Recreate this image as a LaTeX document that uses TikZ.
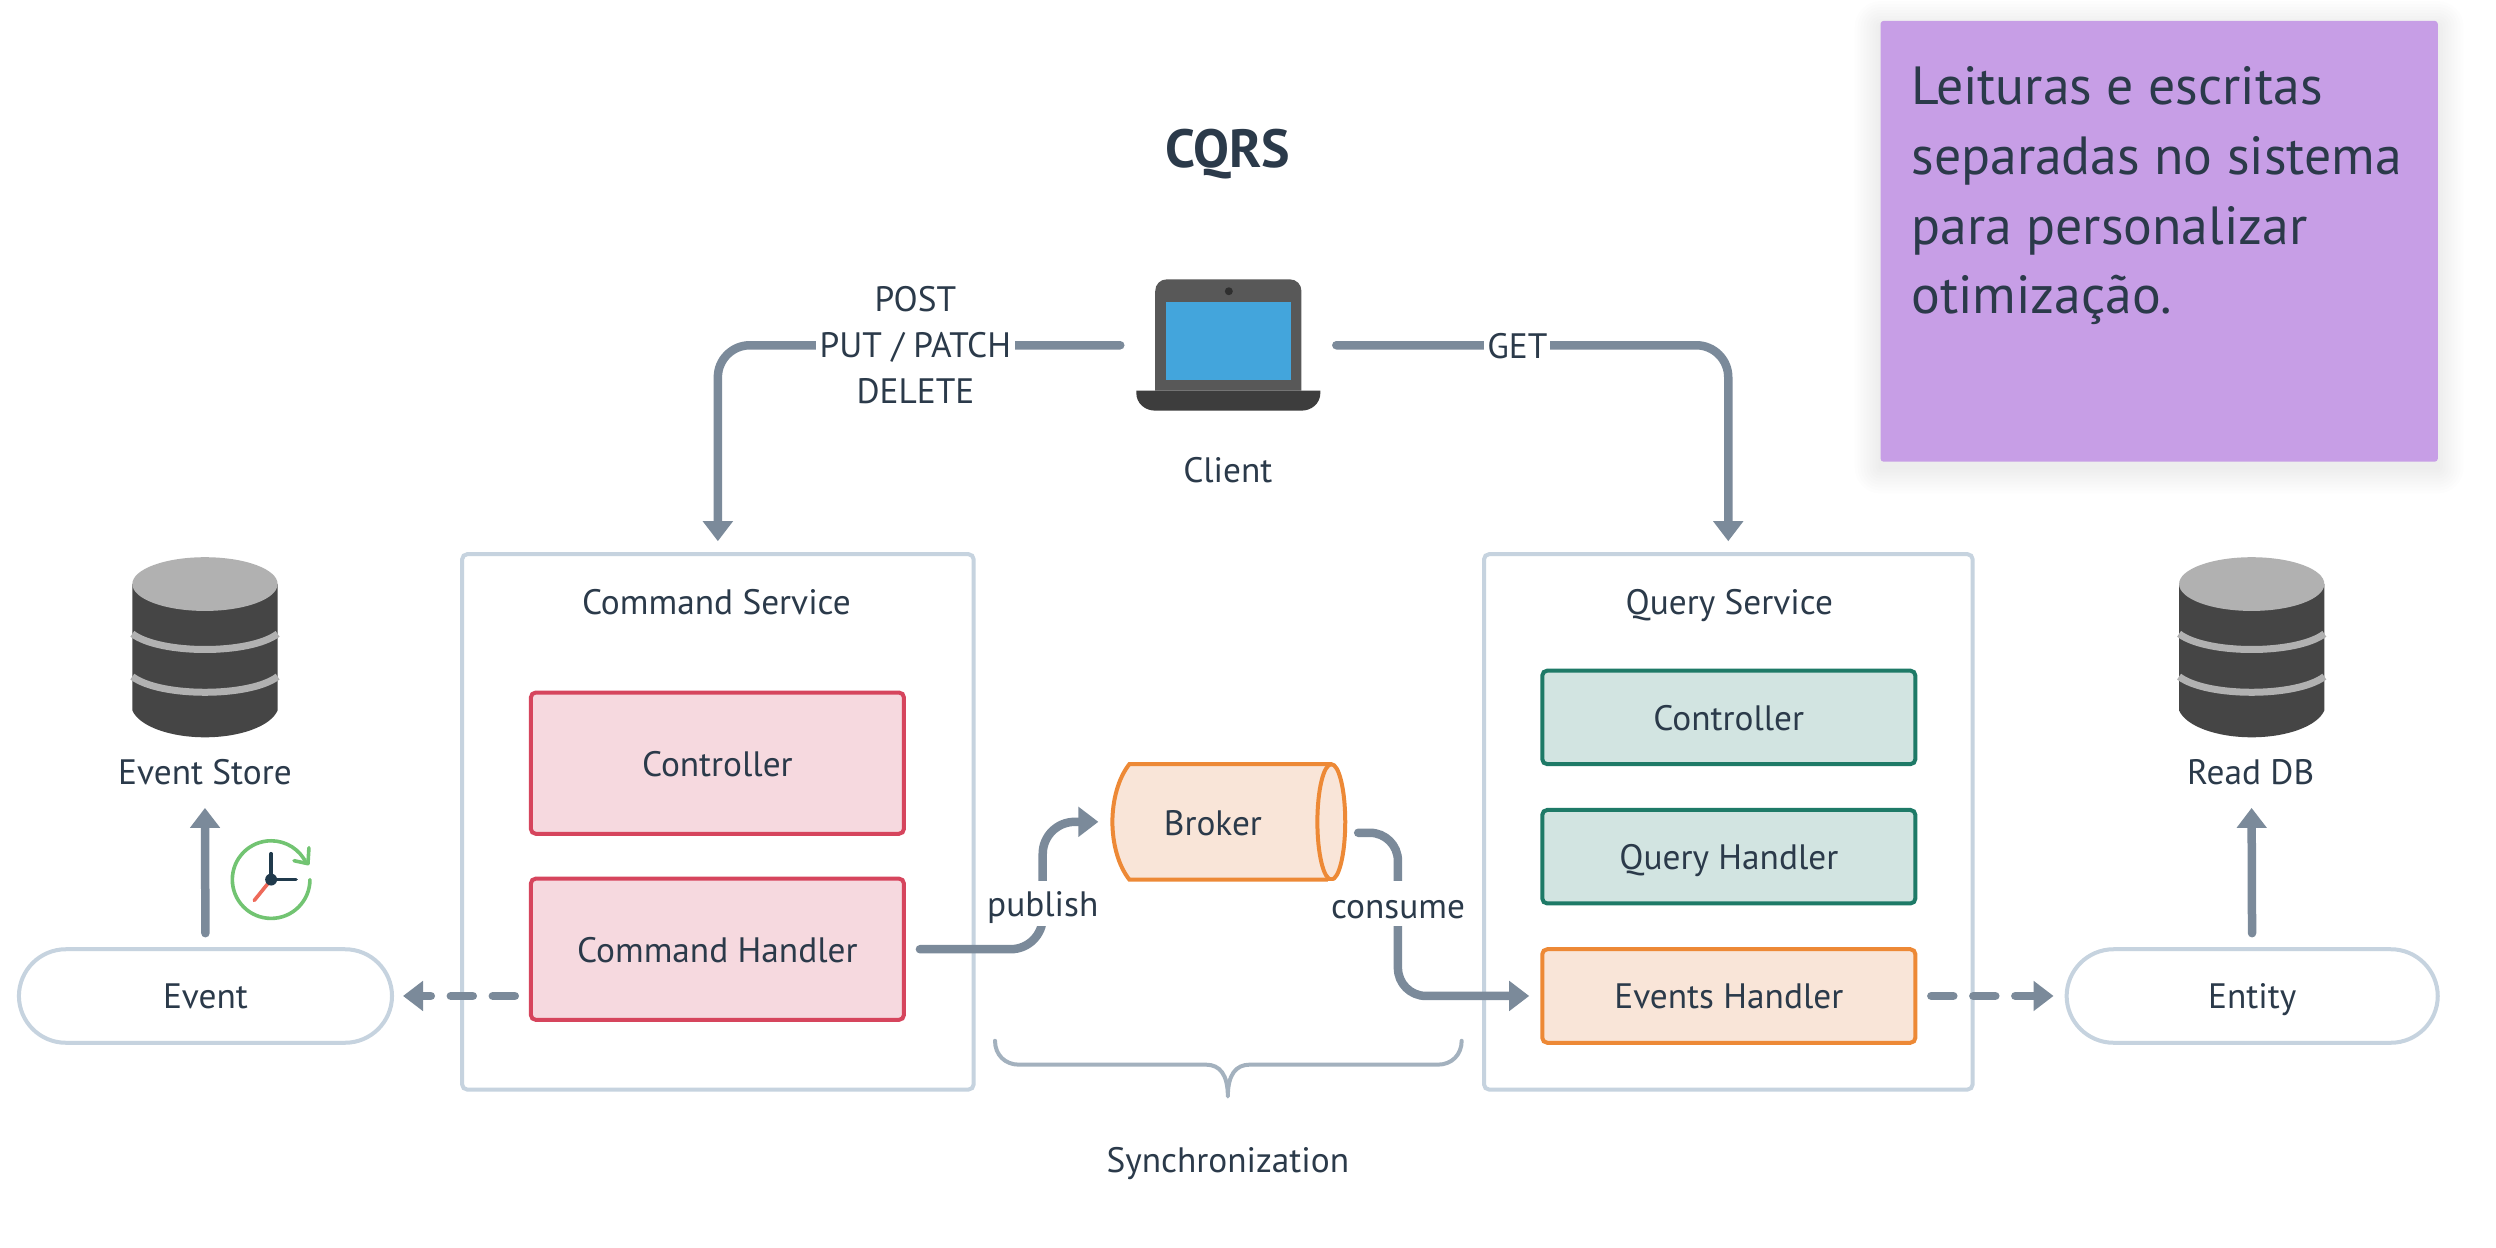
\documentclass[tikz,border=0pt]{standalone}
\usepackage{fontspec}
\setmainfont{PT Sans}
\usetikzlibrary{arrows.meta,calc}
\definecolor{ink}{HTML}{2B3A4A}
\definecolor{conn}{HTML}{7B8A9A}
\definecolor{frame}{HTML}{C6D3DF}
\definecolor{redf}{HTML}{F6D9DF}
\definecolor{redd}{HTML}{D6455D}
\definecolor{grnf}{HTML}{D2E4E1}
\definecolor{grnd}{HTML}{1E7A67}
\definecolor{orf}{HTML}{F9E5D8}
\definecolor{ord}{HTML}{ED8936}
\definecolor{notef}{HTML}{C79EE6}
\definecolor{dbdark}{HTML}{454545}
\definecolor{dblight}{HTML}{B1B1B1}
\definecolor{lapbody}{HTML}{585858}
\definecolor{lapbase}{HTML}{3D3D3D}
\definecolor{lapscr}{HTML}{43A5DC}
\definecolor{lapcam}{HTML}{2F2F2F}
\definecolor{clockg}{HTML}{72C472}
\definecolor{clockd}{HTML}{203A4C}
\definecolor{clockr}{HTML}{EE6A5A}
\definecolor{bracec}{HTML}{A3B1BE}
\tikzset{
  plain/.style={font=\fontsize{35.5}{46}\selectfont,text=ink,inner sep=0pt,outer sep=0pt,align=center},
  lbl/.style={plain,text height=26pt,text depth=0pt},
  gaplbl/.style={lbl,fill=white,inner xsep=3pt,minimum height=46pt},
  svc/.style={draw=frame,line width=4pt,rounded corners=5pt,fill=white,minimum width=#1,outer sep=0pt,minimum height=538pt},
  part/.style={lbl,line width=4pt,rounded corners=5pt,minimum width=375pt},
  redpart/.style={part,draw=redd,fill=redf,minimum height=142pt},
  grnpart/.style={part,draw=grnd,fill=grnf,minimum height=94pt},
  orpart/.style={part,draw=ord,fill=orf,minimum height=94pt},
  pill/.style={lbl,draw=frame,line width=4pt,rounded corners=47pt,fill=white,minimum height=94pt,minimum width=375pt},
  link/.style={draw=conn,line width=8.5pt,line cap=round,-{Triangle[length=20pt,width=29pt]}},
  dashlink/.style={link,dash pattern=on 22pt off 20pt},
  ghost/.style={inner sep=0pt,outer sep=0pt},
  every node/.append style={transform shape}
}
\newcommand{\dbicon}[1]{%
  \begin{scope}[shift={(#1,2)}]
    \fill[dbdark] (-73,585) -- (-73,712) .. controls (-66,728) and (-35,739) .. (0,739) .. controls (35,739) and (66,728) .. (73,712) -- (73,585) -- cycle;
    \draw[dblight,line width=7pt] (-73,635) .. controls (-45,656) and (45,656) .. (73,635);
    \draw[dblight,line width=7pt] (-73,678) .. controls (-45,699) and (45,699) .. (73,678);
    \fill[dblight] (0,585) ellipse [x radius=73pt,y radius=27pt];
  \end{scope}}
\begin{document}
\begin{tikzpicture}[scale=0.995,x=1pt,y=-1pt]
\useasboundingbox (0,0) rectangle (2508.54,1254.27);
\fill[white] (0,0) rectangle (2508.54,1254.27);
% note shadow
\foreach \g in {26,23,...,2}{
  \fill[black,opacity=0.007,rounded corners=\g pt] (1890-\g,21-\g+6) rectangle (2450+\g,464+\g+6);
}
\node[fill=notef,rounded corners=3pt,minimum width=560pt,minimum height=443pt,ghost] (note) at (2170,242.5) {};
\node[plain,anchor=west,align=left,font=\fontsize{54}{70}\selectfont] (notetext) at (1921,197) {Leituras e escritas\\separadas no sistema\\para personalizar\\otimização.};
% title
\node[plain,font=\fontsize{54}{60}\selectfont\bfseries] (title) at (1234,155) {CQRS};
% laptop
\node[ghost,minimum width=185pt,minimum height=132pt] (client) at (1234.5,347) {};
\begin{scope}[shift={(6,1.7)}]
\fill[lapbody] (1155,391) -- (1155,291) .. controls (1155,284) and (1160,279) .. (1167,279) -- (1290,279) .. controls (1297,279) and (1302,284) .. (1302,291) -- (1302,391) -- cycle;
\fill[lapscr] (1166,302) rectangle (1291,380);
\fill[lapbase] (1136,391) -- (1321,391) -- (1321,393) .. controls (1321,404) and (1312,411) .. (1302,411) -- (1155,411) .. controls (1145,411) and (1136,404) .. (1136,393) -- cycle;
\fill[lapcam] (1229,291) circle (4pt);
\end{scope}
\node[lbl] (clientlbl) at (1234,472) {Client};
% services
\node[svc=514pt] (cmd) at (721.5,826) {};
\node[svc=491pt] (qry) at (1737,826) {};
\node[lbl] (cmdlbl) at (720,605) {Command Service};
\node[lbl] (qrylbl) at (1738,605) {Query Service};
\node[redpart] (ctrl) at (721,767) {Controller};
\node[redpart] (cmdh) at (721,954) {Command Handler};
\node[grnpart] (qctrl) at (1737.5,721) {Controller};
\node[grnpart] (qh) at (1737.5,861) {Query Handler};
\node[orpart] (evh) at (1737.5,1001) {Events Handler};
\node[pill] (event) at (206.5,1001) {Event};
\node[pill,minimum width=373pt] (entity) at (2263.5,1001) {Entity};
% databases
\dbicon{206}
\dbicon{2263}
\node[lbl] (evstore) at (206,775) {Event Store};
\node[lbl] (readdb) at (2262,775) {Read DB};
\coordinate (evtip) at (206,812);
\coordinate (rdtip) at (2263,812);
% broker
\node[ghost,minimum width=235pt,minimum height=118pt] (broker) at (1234.5,826) {};
\path[draw=ord,fill=orf,line width=4pt] (1135,768) -- (1338,768) arc[start angle=90,end angle=-90,x radius=14pt,y radius=58pt] -- (1135,884) .. controls (1124,870) and (1118,848) .. (1118,826) .. controls (1118,804) and (1124,782) .. (1135,768) -- cycle;
\draw[ord,line width=4pt] (1338,768) arc[start angle=90,end angle=270,x radius=14pt,y radius=58pt];
\node[lbl] (brokerlbl) at (1219,827) {Broker};
% clock
\begin{scope}[shift={(1.5,4)}]
\draw[clockg,line width=3.6pt,line cap=round] (310,880) arc[start angle=0,end angle=-335,radius=39pt];
\draw[clockg,line width=3.6pt,line cap=round,line join=round] (309,848) -- (308,864) -- (294,861);
\draw[clockr,line width=3.6pt,line cap=round] (271,880) -- (254,901);
\draw[clockd,line width=3.6pt,line cap=round] (271,854) -- (271,880) -- (296,880);
\fill[clockd] (271,880) circle (6pt);
\end{scope}
% connectors
\coordinate (pubx) at (1048,0);
\coordinate (consx) at (1405,0);
\coordinate (brokerout) at (1352,837);
\draw[link,rounded corners=32pt,shorten <=16pt,shorten >=13pt] (client.west) -| (cmd.north);
\draw[link,rounded corners=32pt,shorten <=16pt,shorten >=13pt] (client.east) -| (qry.north);
\draw[link,rounded corners=32pt,shorten <=16pt,shorten >=13pt] (cmdh.east) -- (cmdh.east -| pubx) -- (pubx |- broker.west) -- (broker.west);
\draw[link,shorten <=13pt,shorten >=13pt] (brokerout) [rounded corners=28pt] -- (brokerout -| consx) -- (consx |- evh.west) [rounded corners=40pt] -- (evh.west);
\draw[dashlink,shorten <=16pt,shorten >=11pt] (cmdh.west |- event.east) -- (event.east);
\draw[dashlink,shorten <=16pt,shorten >=13pt] (evh.east) -- (entity.west);
\draw[link,shorten <=16pt] (event.north) -- (evtip);
\draw[link,shorten <=16pt] (entity.north) -- (rdtip);
% connector labels
\node[plain,fill=white,inner xsep=4pt] (verbs) at (920,347) {POST\\PUT / PATCH\\DELETE};
\node[gaplbl] (getlbl) at (1525,347) {GET};
\node[gaplbl] (publbl) at (1048,908) {publish};
\node[gaplbl] (conslbl) at (1405,908) {\raisebox{-2pt}{consume}};
% brace
\draw[bracec,line width=4pt,line cap=round,line join=round] (1000,1046) .. controls (1000,1060) and (1010,1070) .. (1024,1070) -- (1212,1070) .. controls (1226,1070) and (1234,1080) .. (1234,1102) .. controls (1234,1080) and (1242,1070) .. (1256,1070) -- (1445,1070) .. controls (1459,1070) and (1469,1060) .. (1469,1046);
\node[lbl] (synclbl) at (1234,1165) {Synchronization};
\end{tikzpicture}
\end{document}
